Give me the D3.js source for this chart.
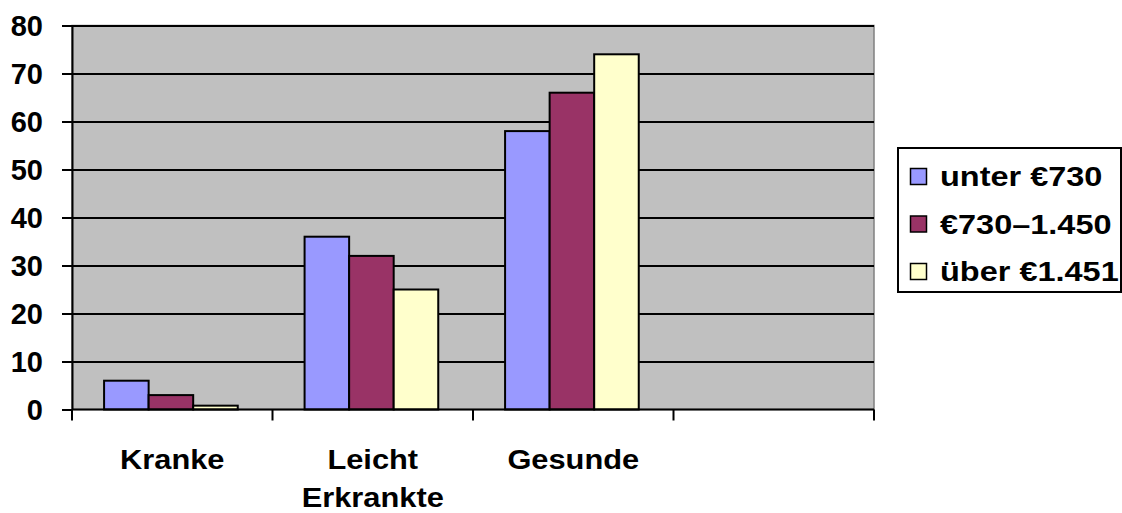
<!DOCTYPE html>
<html><head><meta charset="utf-8">
<script src="https://cdn.jsdelivr.net/npm/d3@7"></script>
<style>
html,body{margin:0;padding:0;background:#fff;}
text{font-family:"Liberation Sans",Arial,sans-serif;font-weight:bold;fill:#000;}
</style></head>
<body><svg id="chart" width="1122" height="513"></svg>
<script>
const categories = ["Kranke", "Leicht\nErkrankte", "Gesunde", ""];
const seriesNames = ["unter €730", "€730–1.450", "über €1.451"];
const seriesColors = ["#9999FF", "#993366", "#FFFFCC"];
const unter730 = [6, 36, 58, null];
const mid730_1450 = [3, 32, 66, null];
const ueber1451 = [0.8, 25, 74, null];
const yTicks = [0, 10, 20, 30, 40, 50, 60, 70, 80];

const series = [unter730, mid730_1450, ueber1451];
const svg = d3.select("#chart");
const L = 72, R = 874, T = 25.5, B = 409.5;

const x = d3.scaleBand().domain(categories.map((c,i)=>i)).range([L, R]).padding(0);
const y = d3.scaleLinear().domain([0, 80]).range([B, T]);
const bw = x.bandwidth() / 4.5;
const xs = d3.scaleBand().domain(series.map((s,i)=>i)).range([0.72*bw, 0.72*bw + 3*bw]);

// plot background
svg.append("rect").attr("x", L).attr("y", T).attr("width", R-L).attr("height", B-T)
  .attr("fill", "#C0C0C0").attr("stroke", "#808080").attr("stroke-width", 1.5);

// gridlines
const grid = svg.append("g").attr("transform", `translate(${L},0)`)
  .call(d3.axisLeft(y).tickValues(yTicks.filter(v=>v>0)).tickSize(-(R-L)).tickFormat(""));
grid.select(".domain").remove();
grid.selectAll("line").attr("stroke", "#000").attr("stroke-width", 2);

// bars
series.forEach((vals, si) => {
  svg.append("g").selectAll("rect").data(vals.map((v,i)=>({v,i})).filter(d=>d.v!=null))
    .join("rect")
    .attr("x", d => x(d.i) + xs(si))
    .attr("width", xs.bandwidth())
    .attr("y", d => y(d.v))
    .attr("height", d => y(0) - y(d.v))
    .attr("fill", seriesColors[si])
    .attr("stroke", "#000").attr("stroke-width", 2);
});

// y axis
const ya = svg.append("g").attr("transform", `translate(${L},0)`)
  .call(d3.axisLeft(y).tickValues(yTicks).tickSize(10).tickPadding(19).tickSizeOuter(0));
ya.select(".domain").attr("stroke", "#000").attr("stroke-width", 2);
ya.selectAll("line").attr("stroke", "#000").attr("stroke-width", 2);
ya.selectAll("text").attr("font-size", 29).attr("font-family", "Liberation Sans, Arial, sans-serif")
  .attr("font-weight", "bold").attr("fill", "#000").attr("dy", "0.36em");

// x axis
const edges = categories.map((c,i)=>x(i)).concat([x(categories.length-1)+x.bandwidth()]);
svg.append("line").attr("x1", L).attr("x2", R).attr("y1", B).attr("y2", B)
  .attr("stroke", "#000").attr("stroke-width", 2);
svg.append("g").selectAll("line").data(edges).join("line")
  .attr("x1", d=>d).attr("x2", d=>d).attr("y1", B).attr("y2", B+11)
  .attr("stroke", "#000").attr("stroke-width", 2);

// x labels
categories.forEach((c, i) => {
  const cx = x(i) + x.bandwidth()/2;
  const t = svg.append("text").attr("text-anchor", "middle").attr("font-size", 28)
    .attr("transform", `translate(${cx},469) scale(1.1,1)`);
  c.split("\n").forEach((line, li) => {
    t.append("tspan").attr("x", 0).attr("dy", li === 0 ? 0 : 38).text(line);
  });
});

// legend
const lg = svg.append("g");
lg.append("rect").attr("x", 898).attr("y", 148).attr("width", 223).attr("height", 144)
  .attr("fill", "#fff").attr("stroke", "#000").attr("stroke-width", 2);
seriesNames.forEach((n, i) => {
  const by = 186 + i * 47.5;
  lg.append("rect").attr("x", 910.5).attr("y", by - 17.5).attr("width", 16).attr("height", 16)
    .attr("fill", seriesColors[i]).attr("stroke", "#000").attr("stroke-width", 1.5);
  lg.append("text").attr("transform", `translate(940,${by}) scale(1.16,1)`)
    .attr("font-size", 28).text(n);
});
</script></body></html>
